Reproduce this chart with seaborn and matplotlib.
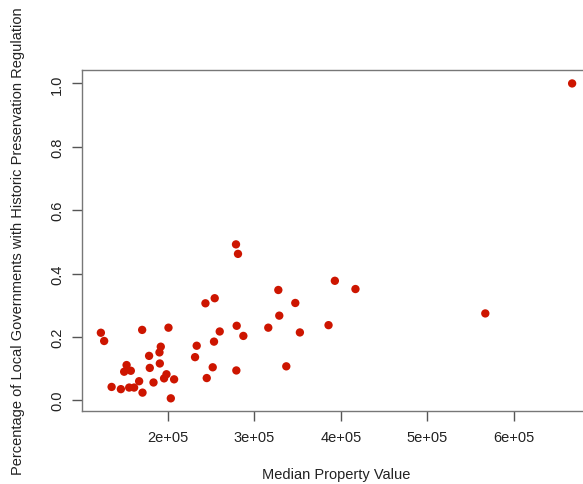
import matplotlib
matplotlib.use("Agg")
import matplotlib.pyplot as plt
import seaborn as sns
import pandas as pd

median_value = [122700, 126500, 170400, 200800, 191900, 190400, 178400, 179200, 190800,
                152400, 149600, 157300, 135100, 145800, 155400, 161100, 166900, 170800,
                183500, 198500, 195700, 207300, 203500, 231500, 233400, 245000, 251900,
                253400, 260000, 243500, 254200, 278800, 281100, 279600, 287300, 279200,
                316100, 327700, 328800, 393000, 416800, 347300, 352600, 385700, 336900,
                667100, 566800]
pct_regulation = [0.213, 0.187, 0.222, 0.229, 0.169, 0.151, 0.140, 0.102, 0.116,
                  0.111, 0.090, 0.093, 0.042, 0.035, 0.040, 0.040, 0.060, 0.024,
                  0.056, 0.082, 0.069, 0.066, 0.006, 0.136, 0.172, 0.070, 0.104,
                  0.185, 0.217, 0.306, 0.322, 0.492, 0.462, 0.235, 0.203, 0.094,
                  0.229, 0.348, 0.267, 0.377, 0.351, 0.307, 0.214, 0.237, 0.107,
                  1.000, 0.274]
x_ticks = [200000, 300000, 400000, 500000, 600000]
x_tick_labels = ["2e+05", "3e+05", "4e+05", "5e+05", "6e+05"]
y_ticks = [0.0, 0.2, 0.4, 0.6, 0.8, 1.0]
y_tick_labels = ["0.0", "0.2", "0.4", "0.6", "0.8", "1.0"]

df = pd.DataFrame({"value": median_value, "pct": pct_regulation})

sns.set_style("white")
plt.rcParams["font.family"] = ["Liberation Sans", "DejaVu Sans"]

fig = plt.figure(figsize=(5.83, 4.85), dpi=100)
ax = fig.add_axes([82 / 583, (485 - 412) / 485, (591 - 82) / 583, (412 - 70.5) / 485])

sns.scatterplot(data=df, x="value", y="pct", ax=ax, color="#CD1500",
                s=36, edgecolor="none", linewidth=0, legend=False)

ax.set_xlim(100900, 688900)
ax.set_ylim(-0.034, 1.044)
ax.set_xticks(x_ticks)
ax.set_xticklabels(x_tick_labels)
ax.set_yticks(y_ticks)
ax.set_yticklabels(y_tick_labels, rotation=90, va="center")

for sp in ax.spines.values():
    sp.set_color("#777777")
    sp.set_linewidth(1.0)
    sp.set_visible(True)

ax.tick_params(bottom=True, left=True, direction="out", length=7, width=1.0,
               color="#555555", labelsize=10.5, labelcolor="#222222", pad=7)
ax.tick_params(axis="y", pad=6)

ax.set_xlabel("Median Property Value", fontsize=10.5, color="#222222", labelpad=16)
ax.set_ylabel("Percentage of Local Governments with Historic Preservation Regulation",
              fontsize=10.5, color="#222222", labelpad=18)

fig.savefig("out.png", dpi=100)
